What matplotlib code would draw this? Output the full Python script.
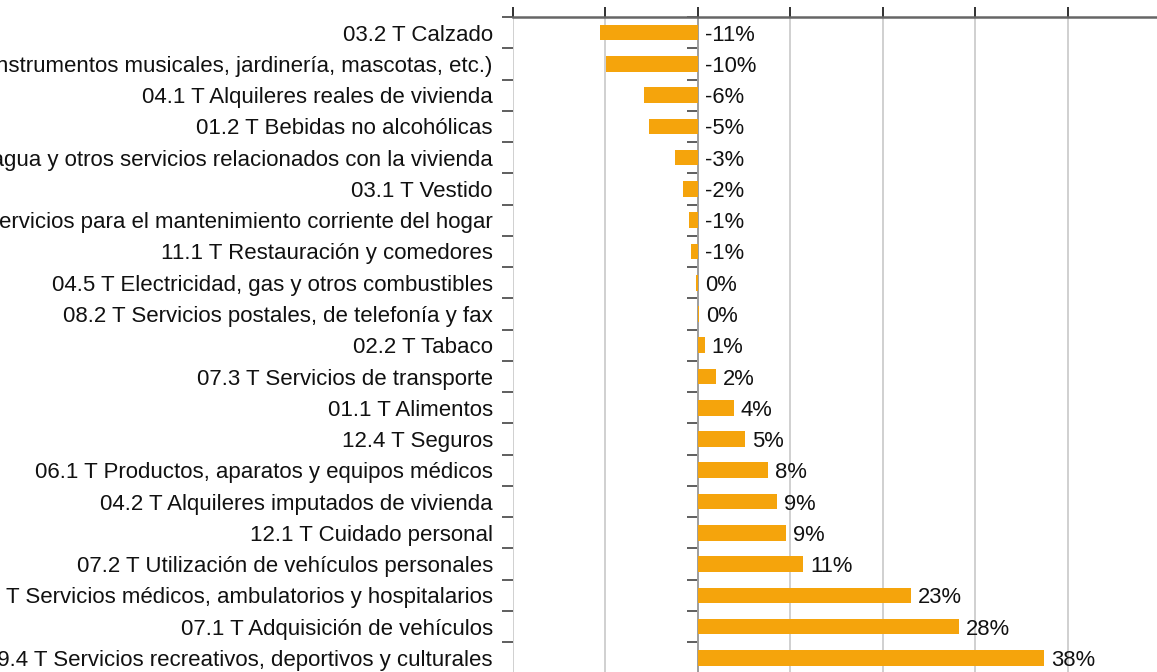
import matplotlib
matplotlib.use('Agg')

import matplotlib.pyplot as plt

plt.rcParams['font.family'] = ['Liberation Sans', 'DejaVu Sans']

# categorias (de arriba a abajo)
categorias = [
    '03.2 T Calzado',
    '09.2 T Otros bienes recreativos (instrumentos musicales, jardinería, mascotas, etc.)',
    '04.1 T Alquileres reales de vivienda',
    '01.2 T Bebidas no alcohólicas',
    '04.4 T Suministro de agua y otros servicios relacionados con la vivienda',
    '03.1 T Vestido',
    '05.6 T Bienes y servicios para el mantenimiento corriente del hogar',
    '11.1 T Restauración y comedores',
    '04.5 T Electricidad, gas y otros combustibles',
    '08.2 T Servicios postales, de telefonía y fax',
    '02.2 T Tabaco',
    '07.3 T Servicios de transporte',
    '01.1 T Alimentos',
    '12.4 T Seguros',
    '06.1 T Productos, aparatos y equipos médicos',
    '04.2 T Alquileres imputados de vivienda',
    '12.1 T Cuidado personal',
    '07.2 T Utilización de vehículos personales',
    '06.2 T Servicios médicos, ambulatorios y hospitalarios',
    '07.1 T Adquisición de vehículos',
    '09.4 T Servicios recreativos, deportivos y culturales',
]
valores = [-10.6, -9.95, -5.85, -5.3, -2.5, -1.6, -1.0, -0.75, -0.2, 0.1, 0.75,
           1.95, 3.9, 5.1, 7.6, 8.6, 9.5, 11.4, 23.1, 28.2, 37.5]
etiquetas = ['-11%', '-10%', '-6%', '-5%', '-3%', '-2%', '-1%', '-1%', '0%', '0%', '1%',
             '2%', '4%', '5%', '8%', '9%', '9%', '11%', '23%', '28%', '38%']

W, H = 1157, 672
fig = plt.figure(figsize=(W / 100, H / 100), dpi=100)
ax = fig.add_axes([513 / W, 1 - 673.5 / H, (1160 - 513) / W, (673.5 - 17) / H])

pos = list(range(len(categorias)))
ax.barh(pos, valores, height=0.5, color='#f5a40c', zorder=3)

xmin, xmax = -20, 50
ax.set_xlim(xmin, xmax)
ax.set_ylim(len(categorias) - 0.5, -0.5)

# etiquetas de datos
for p, v, t in zip(pos, valores, etiquetas):
    ax.annotate(t, (max(v, 0), p), xytext=(5, 0), textcoords='offset points',
                va='center_baseline', ha='left', fontsize=15.8, color='#111111',
                zorder=4)

# eje x arriba, sin etiquetas
ax.xaxis.tick_top()
ax.set_xticks(range(xmin, xmax + 1, 10))
ax.tick_params(axis='x', which='major', direction='out', length=7, width=1.3,
               color='#222222', labeltop=False, labelbottom=False)
ax.grid(axis='x', color='#c4c4c4', linewidth=1.1, zorder=0)

# eje y: etiquetas a la izquierda, marcas entre categorias
ax.set_yticks(pos)
ax.set_yticklabels(categorias, fontsize=16, color='#111111')
ax.tick_params(axis='y', which='major', length=0, pad=14.5)
ax.set_yticks([p - 0.5 for p in pos] + [len(pos) - 0.5], minor=True)
ax.tick_params(axis='y', which='minor', direction='out', length=8, width=1.1,
               color='#333333')

for s in ['left', 'right', 'bottom']:
    ax.spines[s].set_visible(False)
ax.spines['top'].set_color('#666666')
ax.spines['top'].set_linewidth(1.8)

# linea del cero con sus marcas
loc0 = (0 - xmin) / (xmax - xmin)
sec = ax.secondary_yaxis(loc0)
sec.set_yticks([p - 0.5 for p in pos] + [len(pos) - 0.5])
sec.set_yticklabels([])
sec.tick_params(direction='out', length=8, width=1.1, color='#333333')
sec.spines['left'].set_color('#111111')
sec.spines['left'].set_linewidth(1.3)

fig.savefig('out.png', dpi=100)
